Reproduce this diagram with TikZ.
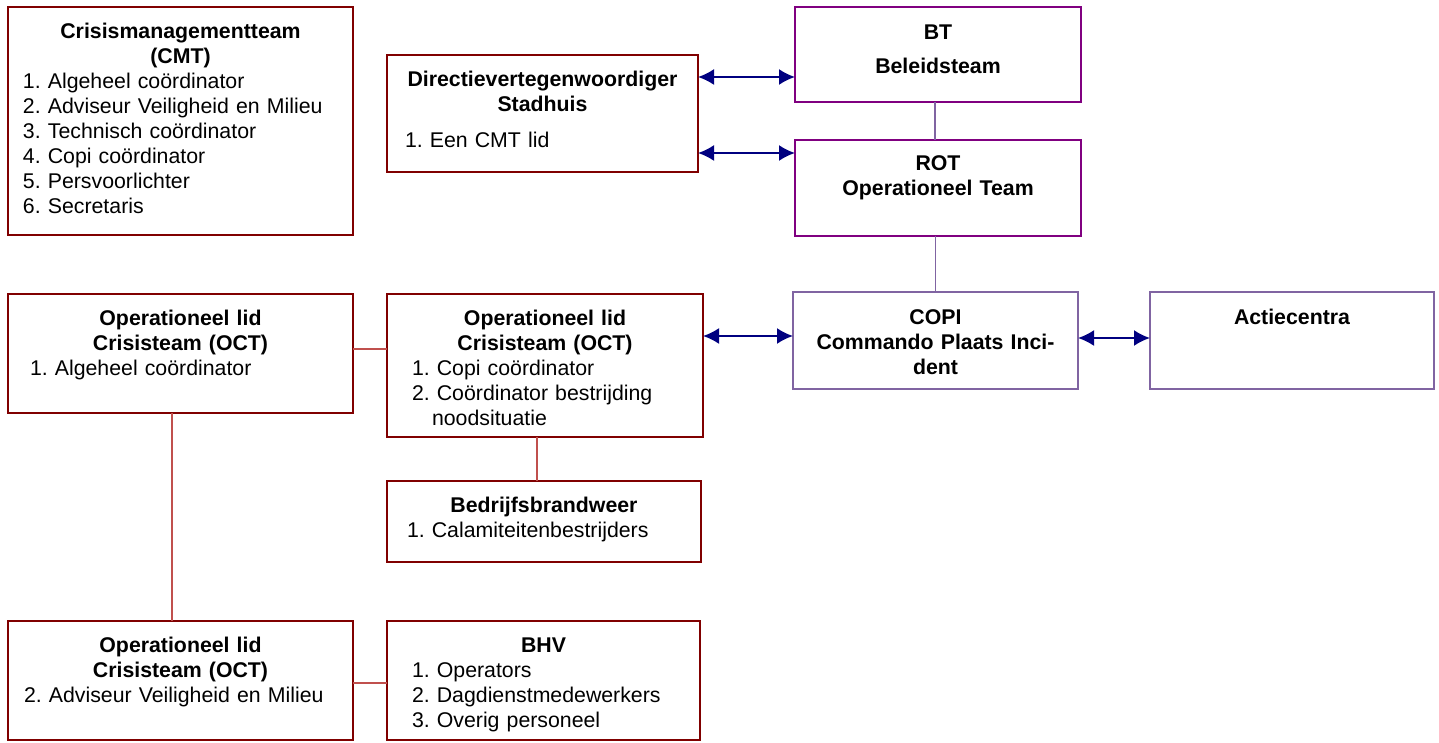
\documentclass[tikz,border=0pt]{standalone}
\usepackage{fontspec}
\setmainfont{Liberation Sans}
\usetikzlibrary{arrows.meta}
\definecolor{boxred}{RGB}{128,0,0}
\definecolor{boxpurple}{RGB}{128,0,128}
\definecolor{lightpurple}{RGB}{128,100,162}
\definecolor{linered}{RGB}{192,80,77}
\definecolor{arrownavy}{RGB}{0,0,128}
\begin{document}
\begin{tikzpicture}[x=1pt,y=-1pt,
  box/.style={draw, rectangle, anchor=north west, outer sep=0pt, inner sep=0pt},
  redbox/.style={box, draw=boxred, line width=2pt},
  purplebox/.style={box, draw=boxpurple, line width=2pt},
  lightbox/.style={box, draw=lightpurple, line width=1.5pt},
  txt/.style={anchor=north, inner sep=0pt, outer sep=0pt, font=\fontsize{21.3}{25}\selectfont},
  arr/.style={draw=arrownavy, line width=2pt, {Latex[length=16pt,width=16pt]}-{Latex[length=16pt,width=16pt]}},
  plink/.style={draw=lightpurple, line width=1.5pt},
  rlink/.style={draw=linered, line width=1.5pt}
]
\useasboundingbox[fill=white] (0,0) rectangle (1439,743);

% boxes
\node[redbox, minimum width=345pt, minimum height=228pt] (cmt) at (8,7) {};
\node[redbox, minimum width=311pt, minimum height=117pt] (dir) at (387,55) {};
\node[purplebox, minimum width=286pt, minimum height=95pt] (bt) at (795,7) {};
\node[purplebox, minimum width=286pt, minimum height=96pt] (rot) at (795,140) {};
\node[lightbox, minimum width=285pt, minimum height=97pt] (copi) at (793,292) {};
\node[lightbox, minimum width=284pt, minimum height=97pt] (actie) at (1150,292) {};
\node[redbox, minimum width=345pt, minimum height=119pt] (octl) at (8,294) {};
\node[redbox, minimum width=316pt, minimum height=143pt] (octm) at (387,294) {};
\node[redbox, minimum width=314pt, minimum height=81pt] (brand) at (387,481) {};
\node[redbox, minimum width=345pt, minimum height=119pt] (octb) at (8,621) {};
\node[redbox, minimum width=313pt, minimum height=119pt] (bhv) at (387,621) {};

% texts
\node[txt, text width=315pt] (cmtt) at (180.5,21) {\parindent=0pt\centering\bfseries\strut Crisismanagementteam\\(CMT)\par\mdseries\raggedright
1.~Algeheel coördinator\\2.~Adviseur Veiligheid en Milieu\\3.~Technisch coördinator\\4.~Copi coördinator\\5.~Persvoorlichter\\6.~Secretaris\par};
\node[txt, text width=275pt] (dirt) at (542.5,69) {\parindent=0pt\centering\bfseries\strut Directievertegenwoordiger\\Stadhuis\par\vspace{11pt}\mdseries\raggedright
1.~Een CMT lid\par};
\node[txt, text width=260pt] (btt) at (938,22) {\parindent=0pt\centering\bfseries\strut BT\\[9pt]Beleidsteam\par};
\node[txt, text width=260pt] (rott) at (938,153) {\parindent=0pt\centering\bfseries\strut ROT\\Operationeel Team\par};
\node[txt, text width=260pt] (copit) at (935.5,307) {\parindent=0pt\centering\bfseries\strut COPI\\Commando Plaats Inci-\\dent\par};
\node[txt, text width=260pt] (actiet) at (1292,307) {\parindent=0pt\centering\bfseries\strut Actiecentra\par};
\node[txt, text width=301pt] (octlt) at (180.5,308) {\parindent=0pt\centering\bfseries\strut Operationeel lid\\Crisisteam (OCT)\par\mdseries\raggedright
1.~Algeheel coördinator\par};
\node[txt, text width=266pt] (octmt) at (545,308) {\parindent=0pt\centering\bfseries\strut Operationeel lid\\Crisisteam (OCT)\par\mdseries\raggedright
1.~Copi coördinator\\2.~Coördinator bestrijding\\\hspace*{20pt}noodsituatie\par};
\node[txt, text width=274pt] (brandt) at (544,495) {\parindent=0pt\centering\bfseries\strut Bedrijfsbrandweer\par\mdseries\raggedright
1.~Calamiteitenbestrijders\par};
\node[txt, text width=313pt] (octbt) at (180.5,635) {\parindent=0pt\centering\bfseries\strut Operationeel lid\\Crisisteam (OCT)\par\mdseries\raggedright
2.~Adviseur Veiligheid en Milieu\par};
\node[txt, text width=263pt] (bhvt) at (543.5,635) {\parindent=0pt\centering\bfseries\strut BHV\par\mdseries\raggedright
1.~Operators\\2.~Dagdienstmedewerkers\\3.~Overig personeel\par};

% connectors
\draw[arr] ([yshift=36.5pt]dir.east) -- ([yshift=36.5pt]dir.east -| bt.west);
\draw[arr] ([yshift=-39.5pt]dir.east) -- ([yshift=-39.5pt]dir.east -| rot.west);
\draw[arr] ([yshift=29.5pt]octm.east) -- ([yshift=29.5pt]octm.east -| copi.west);
\draw[arr] ([yshift=2.5pt]copi.east) -- ([yshift=2.5pt]copi.east -| actie.west);
\draw[plink] ([xshift=-3pt]bt.south) -- ([xshift=-3pt]rot.north);
\draw[plink] (copi.north |- rot.south) -- (copi.north);
\draw[rlink] ([yshift=4.5pt]octl.east) -- ([yshift=4.5pt]octl.east -| octm.west);
\draw[rlink] ([xshift=-8pt]octm.south) -- ([xshift=-8pt]octm.south |- brand.north);
\draw[rlink] ([xshift=-8.5pt]octl.south) -- ([xshift=-8.5pt]octl.south |- octb.north);
\draw[rlink] ([yshift=-2.5pt]octb.east) -- ([yshift=-2.5pt]octb.east -| bhv.west);
\end{tikzpicture}
\end{document}
